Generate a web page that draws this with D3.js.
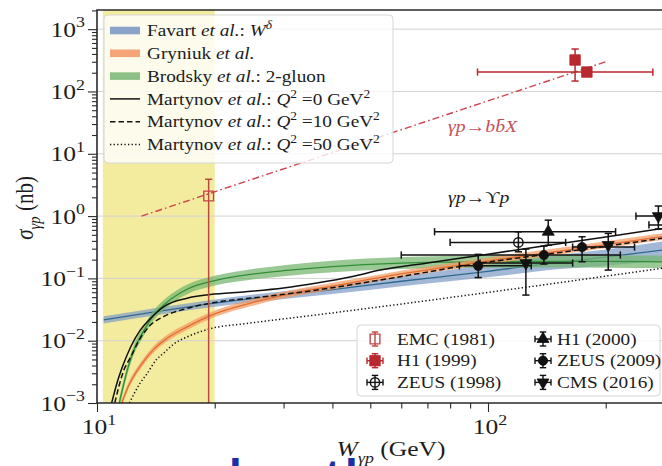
<!DOCTYPE html>
<html>
<head>
<meta charset="utf-8">
<script src="https://cdn.jsdelivr.net/npm/d3@7"></script>
<style>
  html, body { margin: 0; padding: 0; background: #fff; }
  svg { display: block; }
</style>
</head>
<body>
<svg id="chart" width="662" height="466"></svg>
<script>
// ---------- model predictions: cross section (nb) sampled in W (GeV) ----------
const FAVART_W   = [10.4, 20, 40, 60, 100, 150, 200, 300];
const FAVART_MID = [0.0215, 0.040, 0.066, 0.090, 0.13, 0.18, 0.22, 0.30];
const FAVART_LO  = [0.0188, 0.035, 0.056, 0.075, 0.104, 0.14, 0.16, 0.20];
const FAVART_HI  = [0.0247, 0.046, 0.077, 0.108, 0.165, 0.235, 0.29, 0.42];

const GRYNIUK_W   = [11.5, 12, 13, 14, 15, 17, 20, 25, 30, 40, 60, 100, 170, 300];
const GRYNIUK_MID = [0.0009, 0.0018, 0.0042, 0.0074, 0.0106, 0.0167, 0.027, 0.041, 0.054, 0.075, 0.118, 0.19, 0.30, 0.50];
const GRYNIUK_LO  = [0.0008, 0.0016, 0.0037, 0.0065, 0.0094, 0.0148, 0.0239, 0.0363, 0.0478, 0.0664, 0.104, 0.168, 0.265, 0.44];
const GRYNIUK_HI  = [0.00102, 0.00203, 0.0047, 0.0084, 0.0120, 0.0189, 0.0305, 0.0463, 0.061, 0.085, 0.133, 0.215, 0.34, 0.565];

const BRODSKY_W   = [11.4, 11.6, 12, 12.5, 13, 14, 15, 17, 20, 25, 30, 40, 60, 100, 150, 200, 300];
const BRODSKY_MID = [0.0010, 0.0016, 0.0037, 0.0078, 0.0125, 0.026, 0.040, 0.067, 0.092, 0.117, 0.133, 0.155, 0.176, 0.186, 0.188, 0.187, 0.184];
const BRODSKY_LO  = [0.00083, 0.00133, 0.0031, 0.0065, 0.0104, 0.0217, 0.0333, 0.0558, 0.0767, 0.096, 0.108, 0.125, 0.141, 0.148, 0.149, 0.148, 0.146];
const BRODSKY_HI  = [0.0012, 0.0019, 0.0044, 0.0094, 0.015, 0.031, 0.048, 0.080, 0.110, 0.142, 0.163, 0.192, 0.220, 0.234, 0.237, 0.236, 0.232];

const MARTYNOV_Q0_W   = [10.9, 11.25, 11.7, 12.2, 12.9, 13.7, 14.8, 17, 19.5, 24, 30, 36.5, 45, 53, 70, 100, 140, 200, 300];
const MARTYNOV_Q0_SIG = [0.001, 0.0021, 0.0043, 0.0080, 0.0148, 0.0228, 0.035, 0.048, 0.055, 0.061, 0.070, 0.084, 0.107, 0.136, 0.177, 0.245, 0.335, 0.46, 0.68];

const MARTYNOV_Q10_W   = [11.1, 11.7, 12.2, 12.9, 13.7, 14.8, 17, 19.5, 26.7, 36.5, 53, 95, 170, 300];
const MARTYNOV_Q10_SIG = [0.001, 0.0033, 0.0055, 0.0109, 0.0178, 0.0244, 0.033, 0.040, 0.0508, 0.065, 0.094, 0.174, 0.285, 0.47];

const MARTYNOV_Q50_W   = [12.1, 12.9, 13.4, 14.2, 14.8, 15.7, 17, 19.5, 24.2, 36.5, 53, 95, 170, 300];
const MARTYNOV_Q50_SIG = [0.001, 0.0021, 0.0029, 0.0050, 0.0063, 0.0088, 0.0115, 0.0156, 0.0189, 0.026, 0.035, 0.057, 0.094, 0.155];

// open-beauty trend line
const BBX_W   = [13, 200];
const BBX_SIG = [1.0, 300];

// near-threshold region (GeV)
const THRESHOLD_W = [10.35, 20];

// ---------- measurements: [W, sigma, sigma_low, sigma_high, W_low, W_high] ----------
const EMC_1981  = [[19.3, 2.1, 1e-4, 3.9, null, null]];
const H1_1999   = [[167, 320, 147, 480, null, null], [179, 205, 180, 240, 94, 264]];
const ZEUS_1998 = [[119.6, 0.378, 0.267, 0.56, 80, 158]];
const H1_2000   = [[142.6, 0.56, 0.34, 0.86, 73, 212]];
const ZEUS_2009 = [[94.4, 0.159, 0.103, 0.243, 84.5, 129], [139, 0.237, 0.17, 0.33, 60, 218], [174, 0.318, 0.185, 0.466, 164.6, 237]];
const CMS_2016  = [[125, 0.176, 0.054, 0.296, 95.4, 164.6], [203, 0.343, 0.136, 0.527, null, null], [272.7, 1.0, 0.62, 1.45, 239, 330], [300, 0.72, 0.6, 0.85, 258, 340]];

// ---------- tick labels ----------
const Y_TICKS    = [1e-3, 1e-2, 1e-1, 1, 10, 100, 1000];
const Y_TICK_EXP = ['−3', '−2', '−1', '0', '1', '2', '3'];
const X_TICKS    = [10, 100];
const X_TICK_EXP = ['1', '2'];

// ---------- layout ----------
const L = 97, R = 680, T = 10, B = 403;
const SX = 1.16;                       // horizontal glyph stretch
const SERIF = "'Liberation Serif','Times New Roman','DejaVu Serif',serif";
const INK = '#1c1c1c';

const svg = d3.select('#chart');
const x = d3.scaleLog().domain([10, 310]).range([L, L + 391 * Math.log10(31)]);
const y = d3.scaleLog().domain([1e-3, 2030]).range([B, T]);

svg.append('defs').append('clipPath').attr('id', 'plotclip')
  .append('rect').attr('x', L).attr('y', T).attr('width', R - L).attr('height', B - T);

// rich text: parts = [{t, i (italic), sup, sub}]
function rich(parent, px, py, parts, o = {}) {
  const fs = o.size || 16.6;
  let tr = `translate(${px},${py}) scale(${SX},1)`;
  if (o.rotate) tr += ` rotate(${o.rotate})`;
  const t = parent.append('g').attr('transform', tr).append('text')
    .attr('font-family', SERIF).attr('font-size', fs)
    .attr('fill', o.fill || INK).attr('text-anchor', o.anchor || 'start');
  let shift = 0;
  parts.forEach(p => {
    const target = p.sup ? -0.42 * fs : p.sub ? 0.3 * fs : 0;
    const ts = t.append('tspan').text(p.t).attr('dy', target - shift);
    shift = target;
    if (p.i) ts.attr('font-style', 'italic');
    if (p.sup || p.sub) ts.attr('font-size', 0.7 * fs);
  });
  return t;
}

const plot = svg.append('g').attr('clip-path', 'url(#plotclip)');

// threshold band
plot.append('rect')
  .attr('x', x(THRESHOLD_W[0])).attr('y', T)
  .attr('width', x(THRESHOLD_W[1]) - x(THRESHOLD_W[0])).attr('height', B - T)
  .attr('fill', '#f3ec9e');

// horizontal grid
plot.append('g').selectAll('line').data(Y_TICKS.slice(1)).join('line')
  .attr('x1', L).attr('x2', R).attr('y1', d => y(d)).attr('y2', d => y(d))
  .attr('stroke', '#d2d2d2').attr('stroke-width', 1);

// model bands
function band(W, lo, hi, mid, fill, line) {
  const pts = W.map((w, i) => ({ w, lo: lo[i], hi: hi[i], mid: mid[i] }));
  plot.append('path').datum(pts)
    .attr('d', d3.area().x(d => x(d.w)).y0(d => y(d.lo)).y1(d => y(d.hi)).curve(d3.curveMonotoneX))
    .attr('fill', fill).attr('fill-opacity', 0.72);
  plot.append('path').datum(pts)
    .attr('d', d3.line().x(d => x(d.w)).y(d => y(d.mid)).curve(d3.curveMonotoneX))
    .attr('fill', 'none').attr('stroke', line).attr('stroke-width', 1.3);
}
band(FAVART_W, FAVART_LO, FAVART_HI, FAVART_MID, '#7f9dc6', '#2f6a8e');
band(BRODSKY_W, BRODSKY_LO, BRODSKY_HI, BRODSKY_MID, '#74b46e', '#2f8f35');
band(GRYNIUK_W, GRYNIUK_LO, GRYNIUK_HI, GRYNIUK_MID, '#f29a62', '#e46d30');

// Martynov curves
function curve(W, S, dash) {
  const pts = W.map((w, i) => [w, S[i]]);
  plot.append('path').datum(pts)
    .attr('d', d3.line().x(d => x(d[0])).y(d => y(d[1])).curve(d3.curveMonotoneX))
    .attr('fill', 'none').attr('stroke', '#111').attr('stroke-width', 1.5)
    .attr('stroke-dasharray', dash);
}
curve(MARTYNOV_Q0_W, MARTYNOV_Q0_SIG, null);
curve(MARTYNOV_Q10_W, MARTYNOV_Q10_SIG, '5.5,3');
curve(MARTYNOV_Q50_W, MARTYNOV_Q50_SIG, '1.3,2.3');

// open-beauty line
plot.append('path').datum(BBX_W.map((w, i) => [w, BBX_SIG[i]]))
  .attr('d', d3.line().x(d => x(d[0])).y(d => y(d[1])))
  .attr('fill', 'none').attr('stroke', '#d2414c').attr('stroke-width', 1.4)
  .attr('stroke-dasharray', '7,3,1.6,3');

// measurements
function markerPath(kind) {
  const sym = { square: [d3.symbolSquare, 95], bigsquare: [d3.symbolSquare, 110], circle: [d3.symbolCircle, 68],
                up: [d3.symbolTriangle, 62], down: [d3.symbolTriangle, 62] }[kind];
  return d3.symbol().type(sym[0]).size(sym[1])();
}
function drawMarker(g, cx, cy, st) {
  g.append('path').attr('d', markerPath(st.marker))
    .attr('transform', `translate(${cx},${cy})` + (st.marker === 'down' ? ' rotate(180)' : ''))
    .attr('fill', st.open ? 'none' : st.color)
    .attr('stroke', st.mcolor || st.color).attr('stroke-width', st.open ? 1.4 : 0.8);
}
function series(rows, st) {
  const g = plot.append('g').attr('stroke', st.color).attr('stroke-width', 1.5).attr('fill', 'none');
  const cap = 3.6;
  rows.forEach(([w, s, slo, shi, wlo, whi]) => {
    const cx = x(w), cy = y(s);
    if (slo != null) {
      g.append('line').attr('x1', cx).attr('x2', cx).attr('y1', y(slo)).attr('y2', y(shi));
      [slo, shi].forEach(v => g.append('line').attr('x1', cx - cap).attr('x2', cx + cap).attr('y1', y(v)).attr('y2', y(v)));
    }
    if (wlo != null) {
      g.append('line').attr('x1', x(wlo)).attr('x2', x(whi)).attr('y1', cy).attr('y2', cy);
      [wlo, whi].forEach(v => g.append('line').attr('x1', x(v)).attr('x2', x(v)).attr('y1', cy - cap).attr('y2', cy + cap));
    }
    drawMarker(g, cx, cy, st);
  });
}
const STYLE = {
  emc:   { color: '#b94a3e', mcolor: '#c8424c', marker: 'square', open: true },
  h199:  { color: '#b8282e', marker: 'bigsquare' },
  z98:   { color: '#111', marker: 'circle', open: true },
  h100:  { color: '#111', marker: 'up' },
  z09:   { color: '#111', marker: 'circle' },
  cms:   { color: '#111', marker: 'down' }
};
series(ZEUS_2009, STYLE.z09);
series(CMS_2016, STYLE.cms);
series(ZEUS_1998, STYLE.z98);
series(H1_2000, STYLE.h100);
series(EMC_1981, STYLE.emc);
series(H1_1999, STYLE.h199);

// axes
const isDecade = v => Math.abs(Math.log10(v) - Math.round(Math.log10(v))) < 1e-6;
function styleAxis(g) {
  g.select('.domain').remove();
  g.selectAll('line').attr('stroke', '#2a2a2a').attr('stroke-width', 1.1);
}
svg.append('g').attr('transform', `translate(${L},0)`)
  .call(d3.axisLeft(y).tickValues(y.ticks().filter(v => !isDecade(v))).tickSize(5).tickFormat(''))
  .call(styleAxis);
svg.append('g').attr('transform', `translate(${L},0)`)
  .call(d3.axisLeft(y).tickValues(Y_TICKS).tickSize(9).tickFormat(''))
  .call(styleAxis);
svg.append('g').attr('transform', `translate(0,${B})`)
  .call(d3.axisBottom(x).tickValues(x.ticks().filter(v => !isDecade(v))).tickSize(5.5).tickFormat(''))
  .call(styleAxis);
svg.append('g').attr('transform', `translate(0,${B})`)
  .call(d3.axisBottom(x).tickValues(X_TICKS).tickSize(9).tickFormat(''))
  .call(styleAxis);

Y_TICKS.forEach((v, i) => rich(svg, 85, y(v) + 7.5, [{ t: '10' }, { t: Y_TICK_EXP[i], sup: 1 }], { size: 22, anchor: 'end' }));
X_TICKS.forEach((v, i) => rich(svg, x(v) + 2, 434, [{ t: '10' }, { t: X_TICK_EXP[i], sup: 1 }], { size: 22, anchor: 'middle' }));

// frame
svg.append('path').attr('d', `M${R},${T}H${L}V${B}H${R}`)
  .attr('fill', 'none').attr('stroke', '#2a2a2a').attr('stroke-width', 1.6);

// axis titles
rich(svg, 391, 456, [{ t: 'W', i: 1 }, { t: 'γp', i: 1, sub: 1 }, { t: ' (GeV)' }], { size: 22, anchor: 'middle' });
rich(svg, 33, 208, [{ t: 'σ', i: 1 }, { t: 'γp', i: 1, sub: 1 }, { t: ' (nb)' }], { size: 21, anchor: 'middle', rotate: -90 });

// process labels
rich(svg, 448, 132, [{ t: 'γp', i: 1 }, { t: '→' }, { t: 'b', i: 1 }, { t: 'b\u0304', i: 1 }, { t: 'X', i: 1 }], { size: 17, fill: '#c4505a' });
rich(svg, 448, 203, [{ t: 'γp', i: 1 }, { t: '→' }, { t: 'ϒ' }, { t: 'p', i: 1 }], { size: 17 });

// ---------- model legend ----------
const MODEL_LABELS = [
  [{ t: 'Favart ' }, { t: 'et al.', i: 1 }, { t: ': ' }, { t: 'W', i: 1 }, { t: 'δ', i: 1, sup: 1 }],
  [{ t: 'Gryniuk ' }, { t: 'et al.', i: 1 }],
  [{ t: 'Brodsky ' }, { t: 'et al.', i: 1 }, { t: ': 2-gluon' }],
  [{ t: 'Martynov ' }, { t: 'et al.', i: 1 }, { t: ': ' }, { t: 'Q', i: 1 }, { t: '2', sup: 1 }, { t: ' =0 GeV' }, { t: '2', sup: 1 }],
  [{ t: 'Martynov ' }, { t: 'et al.', i: 1 }, { t: ': ' }, { t: 'Q', i: 1 }, { t: '2', sup: 1 }, { t: ' =10 GeV' }, { t: '2', sup: 1 }],
  [{ t: 'Martynov ' }, { t: 'et al.', i: 1 }, { t: ': ' }, { t: 'Q', i: 1 }, { t: '2', sup: 1 }, { t: ' =50 GeV' }, { t: '2', sup: 1 }]
];
const MODEL_HANDLES = [
  { fill: '#8aa3c8' }, { fill: '#f4a476' }, { fill: '#8cc087' },
  { dash: null }, { dash: '5.5,3' }, { dash: '1.3,2.3' }
];
const leg1 = svg.append('g');
leg1.append('rect').attr('x', 104).attr('y', 15).attr('width', 289).attr('height', 148).attr('rx', 4)
  .attr('fill', '#fff').attr('fill-opacity', 0.8).attr('stroke', '#d6d6d6').attr('stroke-width', 1);
MODEL_LABELS.forEach((parts, i) => {
  const cy = 30.5 + i * 22.8;
  const h = MODEL_HANDLES[i];
  if (h.fill) {
    leg1.append('rect').attr('x', 110).attr('y', cy - 3.8).attr('width', 30).attr('height', 7.6).attr('fill', h.fill);
  } else {
    leg1.append('line').attr('x1', 110).attr('x2', 140).attr('y1', cy).attr('y2', cy)
      .attr('stroke', '#111').attr('stroke-width', 1.5).attr('stroke-dasharray', h.dash);
  }
  rich(leg1, 147, cy + 5.6, parts, { size: 16.6 });
});

// ---------- data legend ----------
const DATA_LABELS = ['EMC (1981)', 'H1 (1999)', 'ZEUS (1998)', 'H1 (2000)', 'ZEUS (2009)', 'CMS (2016)'];
const DATA_STYLES = [STYLE.emc, STYLE.h199, STYLE.z98, STYLE.h100, STYLE.z09, STYLE.cms];
const DATA_XERR = [false, true, true, true, true, true];
const leg2 = svg.append('g');
leg2.append('rect').attr('x', 357).attr('y', 325).attr('width', 303).attr('height', 71).attr('rx', 4)
  .attr('fill', '#fff').attr('fill-opacity', 0.85).attr('stroke', '#d6d6d6').attr('stroke-width', 1);
DATA_LABELS.forEach((lab, i) => {
  const col = Math.floor(i / 3), row = i % 3;
  const hx = col ? 543 : 375, tx = col ? 557 : 397;
  const cy = 339 + row * 21.7;
  const st = DATA_STYLES[i];
  const g = leg2.append('g').attr('stroke', st.color).attr('stroke-width', 1.4).attr('fill', 'none');
  g.append('line').attr('x1', hx).attr('x2', hx).attr('y1', cy - 7).attr('y2', cy + 7);
  [-7, 7].forEach(d => g.append('line').attr('x1', hx - 3.2).attr('x2', hx + 3.2).attr('y1', cy + d).attr('y2', cy + d));
  if (DATA_XERR[i]) {
    g.append('line').attr('x1', hx - 8).attr('x2', hx + 8).attr('y1', cy).attr('y2', cy);
    [-8, 8].forEach(d => g.append('line').attr('x1', hx + d).attr('x2', hx + d).attr('y1', cy - 3.2).attr('y2', cy + 3.2));
  }
  drawMarker(g, hx, cy, st);
  rich(leg2, tx, cy + 5.6, [{ t: lab }], { size: 16.6 });
});

// caption line below the figure, mostly outside the frame
const CAPTION_GLYPHS = [['l', 229], ['t', 325], ['l', 345]];
CAPTION_GLYPHS.forEach(([ch, px]) => svg.append('text').attr('x', px).attr('y', 492)
  .attr('font-family', "'Liberation Sans',Arial,sans-serif").attr('font-weight', 'bold')
  .attr('font-size', 46).attr('fill', '#1d2ea6').text(ch));
</script>
</body>
</html>
